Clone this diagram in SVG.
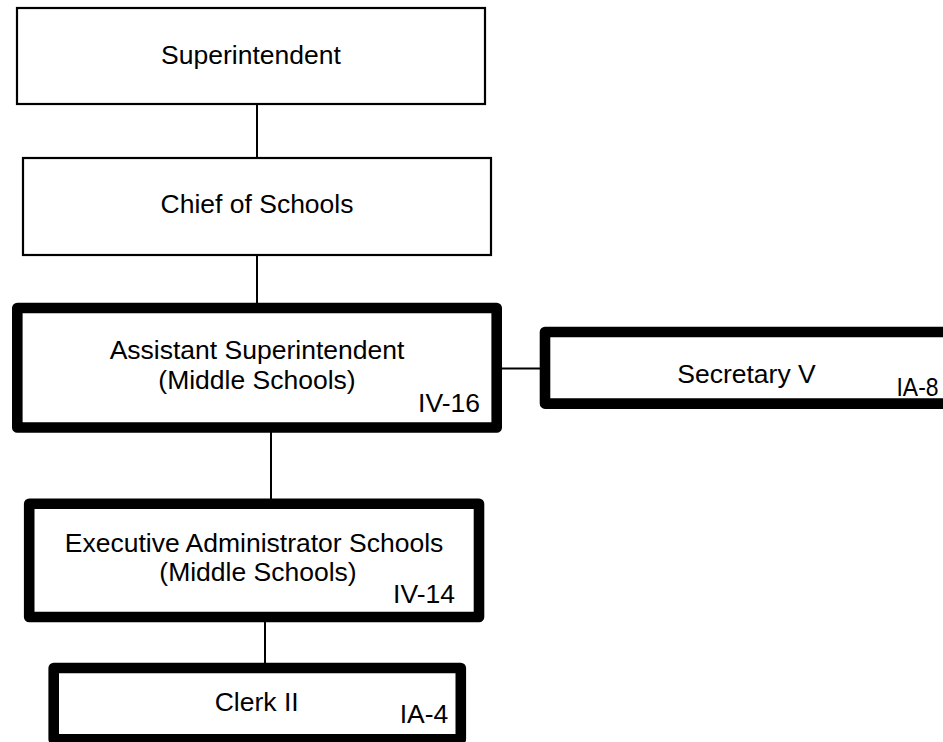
<svg xmlns="http://www.w3.org/2000/svg" width="943" height="742" viewBox="0 0 943 742">
<style>
.thin{fill:#fff;stroke:#000;stroke-width:2.2}
.thick{fill:#fff;stroke:#000;stroke-width:10.6;stroke-linejoin:round}
.conn line{stroke:#000;stroke-width:2}
text{font-family:"Liberation Sans",Arial,sans-serif;font-size:26.5px;fill:#000}
.c{text-anchor:middle}
.r{text-anchor:end}
</style>
<rect width="943" height="742" fill="#fff"/>
<g class="conn" id="connectors">
<line x1="257" y1="104" x2="257" y2="158"/>
<line x1="257" y1="255" x2="257" y2="308"/>
<line x1="271" y1="427" x2="271" y2="503"/>
<line x1="497" y1="368.5" x2="545" y2="368.5"/>
<line x1="265" y1="617" x2="265" y2="668"/>
</g>
<g id="superintendent">
<rect class="thin" x="17" y="8" width="468" height="96"/>
<text class="c" x="251" y="64">Superintendent</text>
</g>
<g id="chief">
<rect class="thin" x="23" y="158" width="468" height="97"/>
<text class="c" x="257" y="213">Chief of Schools</text>
</g>
<g id="assistant">
<rect class="thick" x="17.3" y="308" width="479.4" height="119.5"/>
<text class="c" x="257" y="359">Assistant Superintendent</text>
<text class="c" x="257" y="389">(Middle Schools)</text>
<text class="r" x="480" y="411.5">IV-16</text>
</g>
<g id="secretary">
<rect class="thick" x="545" y="332" width="420" height="71.6"/>
<text class="c" x="746.5" y="383">Secretary V</text>
<text class="r" x="938.5" y="395.5" textLength="42" lengthAdjust="spacingAndGlyphs">IA-8</text>
</g>
<g id="executive">
<rect class="thick" x="29.2" y="503.7" width="449.8" height="113.3"/>
<text class="c" x="254" y="551.5">Executive Administrator Schools</text>
<text class="c" x="258" y="581">(Middle Schools)</text>
<text class="r" x="455" y="603">IV-14</text>
</g>
<g id="clerk">
<rect class="thick" x="53.7" y="668" width="407.1" height="71.3"/>
<text class="c" x="256.7" y="710.5">Clerk II</text>
<text class="r" x="448.3" y="723">IA-4</text>
</g>
</svg>
